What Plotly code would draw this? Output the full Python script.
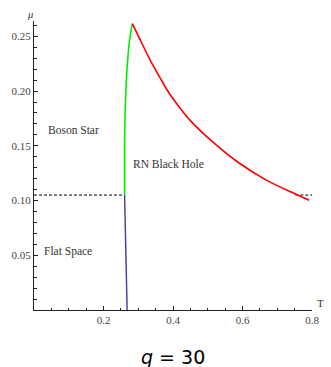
import plotly.graph_objects as go

# Data
blue_T = [0.268, 0.2607]
blue_mu = [0.0, 0.105]

green_T = [0.2607, 0.2607, 0.2607, 0.2624, 0.2663, 0.2700, 0.2736, 0.2780, 0.2830]
green_mu = [0.105, 0.130, 0.152, 0.182, 0.213, 0.230, 0.243, 0.253, 0.2616]

red_T = [0.283, 0.300, 0.334, 0.363, 0.390, 0.418, 0.450, 0.502, 0.586, 0.670, 0.754, 0.792]
red_mu = [0.2616, 0.2505, 0.2285, 0.2120, 0.1975, 0.1854, 0.1730, 0.1570, 0.1352, 0.1184, 0.1057, 0.1002]

dash_left_T = [0.0, 0.2607]
dash_right_T = [0.752, 0.800]
dash_mu = 0.105

x_ticks = [0.2, 0.4, 0.6, 0.8]
x_labels = ["0.2", "0.4", "0.6", "0.8"]
y_ticks = [0.05, 0.10, 0.15, 0.20, 0.25]
y_labels = ["0.05", "0.10", "0.15", "0.20", "0.25"]

region_labels = ["Boson Star", "RN Black Hole", "Flat Space"]
region_T = [0.113, 0.387, 0.0965]
region_mu = [0.1647, 0.133, 0.0537]

serif = "Liberation Serif"

fig = go.Figure()
fig.add_trace(go.Scatter(x=dash_left_T, y=[dash_mu] * 2, mode="lines",
                         line=dict(color="black", width=1, dash="3px,2px"), showlegend=False))
fig.add_trace(go.Scatter(x=dash_right_T, y=[dash_mu] * 2, mode="lines",
                         line=dict(color="black", width=1, dash="3px,2px"), showlegend=False))
fig.add_trace(go.Scatter(x=blue_T, y=blue_mu, mode="lines",
                         line=dict(color="#3a3aa8", width=1.4), showlegend=False))
fig.add_trace(go.Scatter(x=green_T, y=green_mu, mode="lines", line_shape="spline",
                         line=dict(color="#00ee00", width=1.6), showlegend=False))
fig.add_trace(go.Scatter(x=red_T, y=red_mu, mode="lines", line_shape="spline",
                         line=dict(color="#ff0000", width=1.6, smoothing=1.0), showlegend=False))

for txt, tx, ty in zip(region_labels, region_T, region_mu):
    fig.add_annotation(x=tx, y=ty, text=txt, showarrow=False,
                       font=dict(family=serif, size=11.5, color="#333"))

fig.add_annotation(x=0, y=1, xref="paper", yref="paper", text="<i>μ</i>", showarrow=False,
                   xanchor="right", yanchor="bottom", xshift=1, yshift=-1,
                   font=dict(family=serif, size=10.5, color="#333"))
fig.add_annotation(x=1, y=0, xref="paper", yref="paper", text="T", showarrow=False,
                   xanchor="left", yanchor="bottom", xshift=3, yshift=-1,
                   font=dict(family=serif, size=11, color="#333"))
fig.add_annotation(x=0.5, y=0, xref="paper", yref="paper", text="<i>q</i> = 30", showarrow=False,
                   xanchor="center", yanchor="middle", xshift=0, yshift=-47,
                   font=dict(family="DejaVu Sans", size=19, color="black"))

axis_common = dict(showgrid=False, zeroline=False, showline=True, linecolor="#222",
                   linewidth=1, ticks="inside", ticklen=4, tickcolor="#222",
                   tickfont=dict(family=serif, size=11, color="#444"))

fig.update_layout(
    width=331, height=367,
    margin=dict(l=31, r=14, t=21, b=57),
    paper_bgcolor="white", plot_bgcolor="white",
    xaxis=dict(range=[0, 0.8], tickvals=x_ticks, ticktext=x_labels,
               minor=dict(dtick=0.05, tick0=0, ticks="inside", ticklen=2.5, tickcolor="#222"),
               **axis_common),
    yaxis=dict(range=[0, 0.264], tickvals=y_ticks, ticktext=y_labels,
               minor=dict(dtick=0.01, tick0=0, ticks="inside", ticklen=2.5, tickcolor="#222"),
               **axis_common),
)

fig.write_html("out.html")
